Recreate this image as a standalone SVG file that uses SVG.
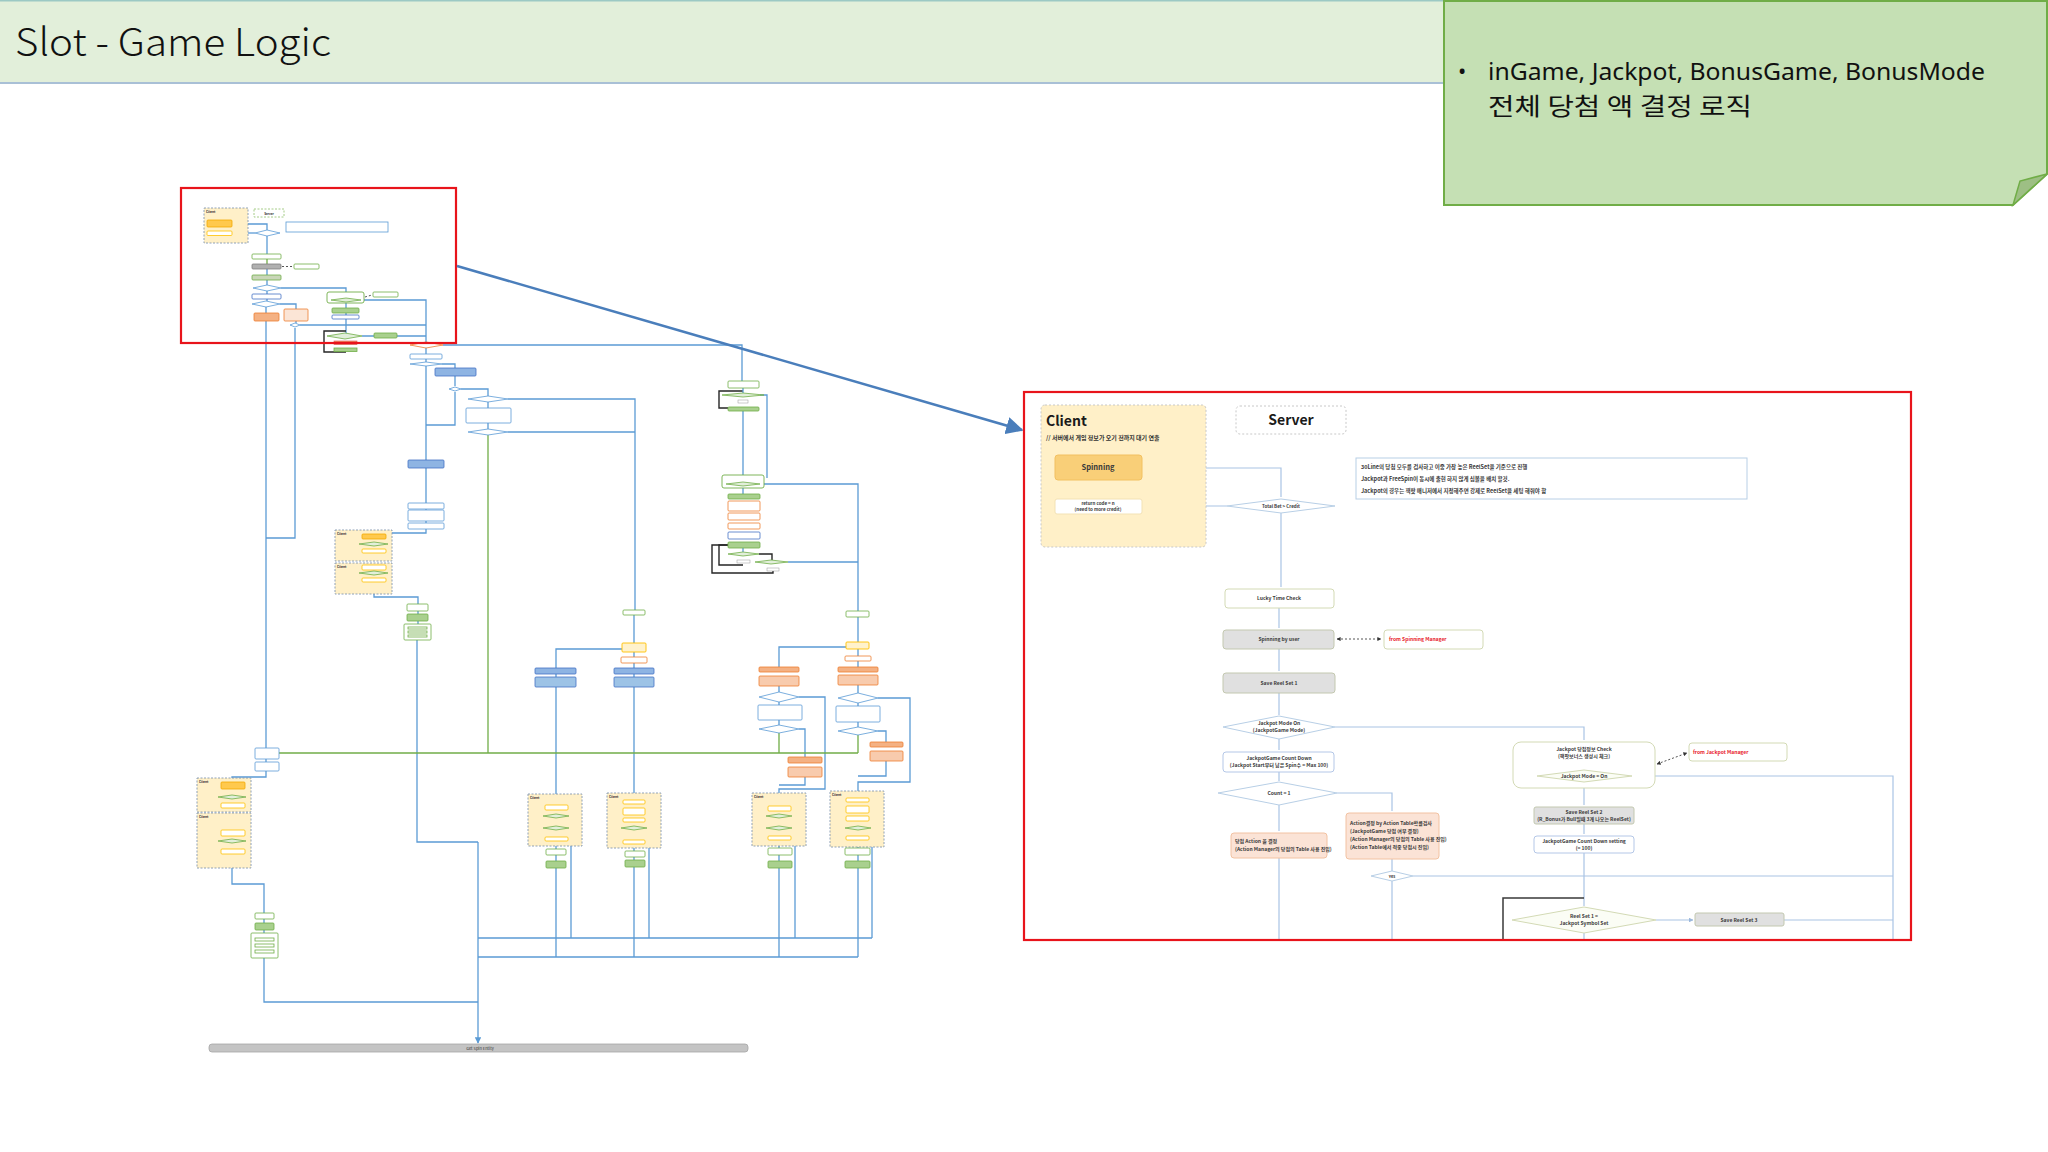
<svg xmlns="http://www.w3.org/2000/svg" width="2048" height="1152" viewBox="0 0 2048 1152">
<defs>
<style>
.f{font-family:"Noto Sans CJK KR","Noto Sans",sans-serif}
.pl{fill:none;stroke:#a9c4e4;stroke-width:1.2}
.pk{fill:none;stroke:#3a3a3a;stroke-width:1.5}
.pd{fill:none;stroke:#555;stroke-width:1;stroke-dasharray:2 2}
.pt{font-family:"Noto Sans CJK KR","Noto Sans",sans-serif;font-size:5px;fill:#3a3a3a;text-anchor:middle;font-weight:700}
.ptl{font-family:"Noto Sans CJK KR","Noto Sans",sans-serif;font-size:5px;fill:#3a3a3a;font-weight:700}
.pr{font-family:"Noto Sans CJK KR","Noto Sans",sans-serif;font-size:5px;fill:#e8202a;font-weight:700}
.pbw{fill:#fff;stroke:#d3dab5;stroke-width:1}
.pbb{fill:#fff;stroke:#b4c7e7;stroke-width:1}
.pbg{fill:#e0e0e0;stroke:#c3c8b0;stroke-width:1}
.pbo{fill:#fbe3d6;stroke:#f2c2a2;stroke-width:1}
.pdm{fill:#fff;stroke:#b8cfe6;stroke-width:1}
.pdg{fill:#fbfdf5;stroke:#d3dab5;stroke-width:1}
.ol{fill:none;stroke:#5b9bd5;stroke-width:1.3}
.og{fill:none;stroke:#70ad47;stroke-width:1.3}
.ok{fill:none;stroke:#262626;stroke-width:1.4}
.bw{fill:#fff;stroke:#5b9bd5;stroke-width:0.8}
.bg{fill:#fff;stroke:#70ad47;stroke-width:0.8}
.bgf{fill:#a9d08e;stroke:#70ad47;stroke-width:0.8}
.bgr{fill:#b0b0b0;stroke:#7f7f7f;stroke-width:0.8}
.bo{fill:#f4b183;stroke:#ed7d31;stroke-width:0.8}
.bof{fill:#fff;stroke:#ed7d31;stroke-width:0.8}
.bb{fill:#8eb4e3;stroke:#4472c4;stroke-width:0.8}
.bbw{fill:#fff;stroke:#4472c4;stroke-width:0.8}
.by{fill:#fff;stroke:#ffc000;stroke-width:0.8}
.byf{fill:#ffc94d;stroke:#f2a900;stroke-width:0.8}
.cl{fill:#fff0c8;stroke:#8497b0;stroke-width:0.9;stroke-dasharray:2 1.5}
.dg{fill:#e2efda;stroke:#70ad47;stroke-width:0.8}
.db{fill:#fff;stroke:#5b9bd5;stroke-width:0.8}
.do{fill:#fff;stroke:#ed7d31;stroke-width:0.8}
</style>
<marker id="arB" viewBox="0 0 10 10" refX="9" refY="5" markerWidth="7" markerHeight="7" orient="auto-start-reverse"><path d="M0,0 L10,5 L0,10 z" fill="#4a7ebb"/></marker>
<marker id="arP" viewBox="0 0 10 10" refX="9" refY="5" markerWidth="4" markerHeight="4" orient="auto-start-reverse"><path d="M0,0 L10,5 L0,10 z" fill="#9cb8dc"/></marker>
<marker id="arK" viewBox="0 0 10 10" refX="9" refY="5" markerWidth="4" markerHeight="4" orient="auto-start-reverse"><path d="M0,0 L10,5 L0,10 z" fill="#333"/></marker>
<marker id="arS" viewBox="0 0 10 10" refX="9" refY="5" markerWidth="5" markerHeight="5" orient="auto"><path d="M0,0 L10,5 L0,10 z" fill="#5b9bd5"/></marker>
<clipPath id="panelClip"><rect x="1024" y="392" width="887" height="548"/></clipPath>
</defs>

<rect width="2048" height="1152" fill="#fff"/>

<!-- Title bar -->
<g id="title">
<rect x="0" y="0" width="1445" height="83" fill="#e2efda"/>
<line x1="0" y1="0.8" x2="1445" y2="0.8" stroke="#9cc9c4" stroke-width="1.5"/>
<line x1="0" y1="83" x2="1445" y2="83" stroke="#a9c0d6" stroke-width="2"/>
<text class="f" x="15" y="56" font-size="38" font-weight="300" fill="#111" textLength="316" lengthAdjust="spacingAndGlyphs">Slot - Game Logic</text>
</g>

<!-- Note -->
<g id="note">
<path d="M1444,1 H2047 V174 L2013,205 H1444 Z" fill="#c5e0b4" stroke="#70ad47" stroke-width="2"/>
<path d="M2013,205 L2020,181 L2047,174 Z" fill="#9dbf84" stroke="#70ad47" stroke-width="1.5"/>
<text x="1458" y="79" font-family="Noto Sans, sans-serif" font-size="22" fill="#111">•</text>
<text x="1488" y="80" font-family="Noto Sans, sans-serif" font-size="24" fill="#111" textLength="497" lengthAdjust="spacingAndGlyphs">inGame, Jackpot, BonusGame, BonusMode</text>
<text class="f" x="1488" y="115" font-size="24" fill="#111" textLength="264" lengthAdjust="spacingAndGlyphs">전체 당첨 액 결정 로직</text>
</g>

<!-- ========== Overview flowchart (left) ========== -->
<g id="overview-connectors">
<path class="ol" d="M232,224 H267 V230"/>
<path class="ol" d="M255,233 H233"/>
<path class="ol" d="M267,236 V254"/>
<path class="og" d="M267,259 V264"/>
<path class="ol" d="M267,269 V275 M267,280 V285 M267,291 V294 M267,299 V301 M266,307 V313"/>
<path class="ol" d="M281,288 H346 V292"/>
<path class="ol" d="M280,304 H296 V309"/>
<path class="ol" d="M296,321 V323"/>
<path class="ol" d="M300,325 H426"/>
<path class="ol" d="M361,300 H426 V342"/>
<path class="ol" d="M346,303 V308 M346,313 V315 M346,319 V334"/>
<path class="ok" d="M346,331 H324 V352 H346"/>
<path class="ol" d="M362,336 H374 M397,336 H426"/>
<path class="ol" d="M443,345 H742 V381"/>
<path class="pd" d="M282,266.5 H293" stroke="#222"/>
<path class="pd" d="M365,297 L372,295" stroke="#222"/>
<path class="ol" d="M266,321 V748"/>
<path class="ol" d="M295,328 V538 H266"/>
<path class="ol" d="M426,348 V354 M426,359 V362"/>
<path class="ol" d="M442,364 H455 V368"/>
<path class="ol" d="M455,376 V386 M455,392 V425 H426"/>
<path class="ol" d="M461,389 H488 V396"/>
<path class="ol" d="M488,402 V408 M488,423 V429"/>
<path class="ol" d="M508,399 H635 V610"/>
<path class="ol" d="M508,432 H635"/>
<path class="og" d="M488,435 V753"/>
<path class="ol" d="M426,366 V460 M426,468 V503 M426,509 V510 M426,521 V523 M426,529 V533 H374 V536"/>
<path class="ol" d="M374,594 V597 H418 V604 M418,611 V614 M418,621 V624"/>
<path class="ol" d="M417,640 V842 H478"/>
<path class="ok" d="M743,391 H719 V408 H728"/>
<path class="ol" d="M760,395 H767 V478"/>
<path class="ol" d="M743,388 V393 M743,411 V475 M743,488 V494"/>
<path class="ol" d="M764,484 H858 V611"/>
<path class="ol" d="M743,548 V552"/>
<path class="ok" d="M728,545 H719 V565 H743"/>
<path class="ok" d="M728,545 H712 V573 H773 V570"/>
<path class="ok" d="M759,554 H772 V560"/>
<path class="ol" d="M788,562 H858"/>
<path class="ol" d="M858,617 V642 M858,649 V656 M858,661 V667 M858,685 V693 M858,703 V706 M858,722 V727"/>
<path class="ol" d="M846,647 H779 V667"/>
<path class="ol" d="M779,686 V692 M779,702 V705 M779,720 V725"/>
<path class="ol" d="M878,698 H910 V782 H858 V791"/>
<path class="ol" d="M878,731 H886 V742 M886,761 V776 H858"/>
<path class="ol" d="M799,697 H825 V789 H779 V793"/>
<path class="ol" d="M799,729 H805 V757 M805,777 V785 H779"/>
<path class="og" d="M858,735 V753 M779,733 V753"/>
<path class="ol" d="M634,615 V643 M634,652 V657 M634,663 V668 M634,674 V677"/>
<path class="ol" d="M622,649 H556 V668"/>
<path class="ol" d="M556,674 V677 M556,687 V794 M634,687 V793"/>
<path class="og" d="M279,753 H858"/>
<path class="ol" d="M266,759 V762 M266,771 V777 H232 V778"/>
<path class="ol" d="M232,868 V884 H264 V913 M264,919 V923 M264,930 V933"/>
<path class="ol" d="M264,958 V1002 H478"/>
<path class="ol" d="M556,846 V849 M556,855 V861 M556,868 V957"/>
<path class="ol" d="M571,828 V938"/>
<path class="ol" d="M634,848 V851 M634,857 V860 M634,867 V957"/>
<path class="ol" d="M649,828 V938"/>
<path class="ol" d="M779,846 V848 M779,855 V861 M779,868 V957"/>
<path class="ol" d="M795,828 V938"/>
<path class="ol" d="M858,847 V848 M858,855 V861 M858,868 V957"/>
<path class="ol" d="M872,828 V938"/>
<path class="ol" d="M478,938 H872 M478,957 H858"/>
<path class="ol" d="M478,842 V1043" marker-end="url(#arS)"/>
</g>

<g id="overview-nodes">
<rect class="cl" x="204" y="208" width="44" height="35"/>
<text class="f" x="206" y="213" font-size="3.2" font-weight="700" fill="#333">Client</text>
<rect x="254" y="209" width="30" height="8" fill="#fff" stroke="#8fbf6a" stroke-width="0.8" stroke-dasharray="2 1.5"/>
<text class="f" x="269" y="214.5" font-size="3" font-weight="700" fill="#333" text-anchor="middle">Server</text>
<rect class="byf" x="207" y="220" width="25" height="7" rx="1"/>
<rect class="by" x="207" y="231" width="25" height="4.5" rx="1"/>
<rect class="bw" x="286" y="222" width="102" height="10"/>
<polygon class="db" points="255,233 267,230 280,233 267,236"/>
<rect class="bg" x="252" y="254" width="29" height="5" rx="1"/>
<rect class="bgr" x="252" y="264" width="29" height="5" rx="1"/>
<rect class="bg" x="294" y="264" width="25" height="5" rx="1"/>
<rect x="252" y="275" width="29" height="5" rx="1" fill="#c9d6b8" stroke="#70ad47" stroke-width="0.8"/>
<polygon class="db" points="253,288 267,285 281,288 267,291"/>
<rect class="bbw" x="252" y="294" width="29" height="5" rx="1"/>
<polygon class="db" points="252,304 266,301 280,304 266,307"/>
<rect class="bo" x="254" y="313" width="25" height="8" rx="1"/>
<rect x="284" y="309" width="24" height="12" rx="1" fill="#fbe5d6" stroke="#ed7d31" stroke-width="0.8"/>
<polygon class="db" points="290,325 295,323 300,325 295,327"/>
<rect x="327" y="292" width="37" height="11" rx="2" fill="#fff" stroke="#70ad47" stroke-width="0.9"/>
<polygon class="dg" points="331,300 346,298 361,300 346,302"/>
<rect class="bg" x="373" y="292" width="25" height="5" rx="1"/>
<rect class="bgf" x="332" y="308" width="27" height="5" rx="1"/>
<rect class="bbw" x="332" y="315" width="27" height="4" rx="1"/>
<polygon class="dg" points="327,336 345,333 362,336 345,339"/>
<rect class="bgf" x="374" y="333" width="23" height="5" rx="1"/>
<rect x="334" y="341" width="23" height="3.5" fill="#f08a5d" stroke="#d9534f" stroke-width="0.6"/>
<rect class="bgf" x="334" y="348" width="23" height="3.5"/>
<polygon class="do" points="410,345 426,342 443,345 426,348"/>
<rect class="bw" x="410" y="354" width="32" height="5" rx="1"/>
<polygon class="db" points="410,364 426,362 442,364 426,366"/>
<rect class="bb" x="435" y="368" width="41" height="8" rx="1"/>
<polygon class="db" points="449,389 455,387 461,389 455,391"/>
<polygon class="db" points="468,399 488,396 508,399 488,402"/>
<rect class="bw" x="466" y="408" width="45" height="15" rx="1"/>
<polygon class="db" points="468,432 488,429 508,432 488,435"/>
<rect class="bb" x="408" y="460" width="36" height="8" rx="1"/>
<rect class="bw" x="408" y="503" width="36" height="6" rx="1"/>
<rect class="bw" x="408" y="510" width="36" height="11" rx="1"/>
<rect class="bw" x="408" y="523" width="36" height="6" rx="1"/>
<rect class="cl" x="335" y="530" width="57" height="31"/>
<rect class="cl" x="335" y="563" width="57" height="31"/>
<text class="f" x="337" y="535" font-size="3.2" font-weight="700" fill="#333">Client</text>
<text class="f" x="337" y="568" font-size="3.2" font-weight="700" fill="#333">Client</text>
<rect class="byf" x="362" y="534" width="24" height="5" rx="1"/>
<polygon class="dg" points="359,544 374,542 388,544 374,546"/>
<rect class="by" x="362" y="549" width="24" height="4" rx="1"/>
<rect class="by" x="362" y="565" width="24" height="5" rx="1"/>
<polygon class="dg" points="359,573 374,571 388,573 374,575"/>
<rect class="by" x="362" y="578" width="24" height="4" rx="1"/>
<rect class="bg" x="407" y="604" width="21" height="7" rx="1"/>
<rect class="bgf" x="407" y="614" width="21" height="7" rx="1"/>
<rect class="bg" x="404" y="624" width="27" height="16" rx="1"/>
<rect class="bg" x="408" y="627" width="19" height="2"/>
<rect class="bg" x="408" y="631" width="19" height="2"/>
<rect class="bg" x="408" y="635" width="19" height="2"/>
<rect class="bg" x="623" y="610" width="22" height="5" rx="1"/>
<rect class="bg" x="728" y="381" width="31" height="7" rx="1"/>
<polygon class="dg" points="722,395 743,393 764,395 743,397"/>
<rect x="738" y="400" width="10" height="3" fill="#fff" stroke="#999" stroke-width="0.5"/>
<rect class="bgf" x="728" y="407" width="31" height="4" rx="1"/>
<rect x="722" y="475" width="42" height="13" rx="2" fill="#fff" stroke="#70ad47" stroke-width="0.9"/>
<polygon class="dg" points="726,484 743,482 760,484 743,486"/>
<rect class="bgf" x="728" y="494" width="32" height="5" rx="1"/>
<rect class="bof" x="728" y="501" width="32" height="10" rx="1"/>
<rect class="bof" x="728" y="513" width="32" height="7" rx="1"/>
<rect class="bof" x="728" y="523" width="32" height="6" rx="1"/>
<rect class="bbw" x="728" y="532" width="32" height="7" rx="1"/>
<rect class="bgf" x="728" y="542" width="32" height="6" rx="1"/>
<polygon class="dg" points="728,554 743,552 759,554 743,556"/>
<polygon class="dg" points="755,562 771,560 788,562 771,564"/>
<rect x="737" y="560" width="13" height="3" fill="#fff" stroke="#999" stroke-width="0.5"/>
<rect x="767" y="568" width="12" height="3" fill="#fff" stroke="#999" stroke-width="0.5"/>
<rect class="bg" x="846" y="611" width="23" height="6" rx="1"/>
<rect x="846" y="642" width="23" height="7" rx="1" fill="#fff2cc" stroke="#ffc000" stroke-width="0.9"/>
<rect class="bof" x="845" y="656" width="26" height="5" rx="1"/>
<rect class="bo" x="838" y="667" width="40" height="5" rx="1"/>
<rect x="838" y="675" width="40" height="10" rx="1" fill="#f8cbad" stroke="#ed7d31" stroke-width="0.8"/>
<polygon class="db" points="838,698 858,693 878,698 858,703"/>
<rect class="bw" x="836" y="706" width="44" height="16" rx="1"/>
<polygon class="db" points="838,731 858,727 878,731 858,735"/>
<rect class="bo" x="870" y="742" width="33" height="5" rx="1"/>
<rect x="870" y="751" width="33" height="10" rx="1" fill="#f8cbad" stroke="#ed7d31" stroke-width="0.8"/>
<rect class="bo" x="759" y="667" width="40" height="5" rx="1"/>
<rect x="759" y="676" width="40" height="10" rx="1" fill="#f8cbad" stroke="#ed7d31" stroke-width="0.8"/>
<polygon class="db" points="759,697 779,692 799,697 779,702"/>
<rect class="bw" x="758" y="705" width="44" height="15" rx="1"/>
<polygon class="db" points="759,729 779,725 799,729 779,733"/>
<rect class="bo" x="788" y="757" width="34" height="6" rx="1"/>
<rect x="788" y="767" width="34" height="10" rx="1" fill="#f8cbad" stroke="#ed7d31" stroke-width="0.8"/>
<rect x="622" y="643" width="24" height="9" rx="1" fill="#fff2cc" stroke="#ffc000" stroke-width="0.9"/>
<rect class="bof" x="621" y="657" width="26" height="6" rx="1"/>
<rect class="bb" x="614" y="668" width="40" height="6" rx="1"/>
<rect x="614" y="677" width="40" height="10" rx="1" fill="#9dc3e6" stroke="#4472c4" stroke-width="0.8"/>
<rect class="bb" x="535" y="668" width="41" height="6" rx="1"/>
<rect x="535" y="677" width="41" height="10" rx="1" fill="#9dc3e6" stroke="#4472c4" stroke-width="0.8"/>
<rect class="cl" x="528" y="794" width="54" height="52"/>
<rect class="cl" x="607" y="793" width="54" height="55"/>
<rect class="cl" x="752" y="793" width="54" height="53"/>
<rect class="cl" x="830" y="791" width="54" height="56"/>
<text class="f" x="530" y="799" font-size="3.2" font-weight="700" fill="#333">Client</text>
<text class="f" x="609" y="798" font-size="3.2" font-weight="700" fill="#333">Client</text>
<text class="f" x="754" y="798" font-size="3.2" font-weight="700" fill="#333">Client</text>
<text class="f" x="832" y="796" font-size="3.2" font-weight="700" fill="#333">Client</text>
<rect class="by" x="545" y="805" width="23" height="5" rx="1"/>
<polygon class="dg" points="543,816 556,814 569,816 556,818"/>
<polygon class="dg" points="543,828 556,826 569,828 556,830"/>
<rect class="by" x="545" y="837" width="23" height="4" rx="1"/>
<rect class="by" x="623" y="800" width="22" height="4" rx="1"/>
<rect class="by" x="623" y="808" width="22" height="7" rx="1"/>
<rect class="by" x="623" y="818" width="22" height="4" rx="1"/>
<polygon class="dg" points="621,828 634,826 647,828 634,830"/>
<rect class="by" x="623" y="840" width="22" height="4" rx="1"/>
<rect class="by" x="768" y="806" width="23" height="5" rx="1"/>
<polygon class="dg" points="766,816 779,814 792,816 779,818"/>
<polygon class="dg" points="766,828 779,826 792,828 779,830"/>
<rect class="by" x="768" y="836" width="23" height="4" rx="1"/>
<rect class="by" x="846" y="798" width="23" height="4" rx="1"/>
<rect class="by" x="846" y="806" width="23" height="7" rx="1"/>
<rect class="by" x="846" y="816" width="23" height="5" rx="1"/>
<polygon class="dg" points="845,828 858,826 871,828 858,830"/>
<rect class="by" x="846" y="836" width="23" height="4" rx="1"/>
<rect class="bg" x="546" y="849" width="20" height="6" rx="1"/>
<rect class="bgf" x="546" y="861" width="20" height="7" rx="1"/>
<rect class="bg" x="625" y="851" width="20" height="6" rx="1"/>
<rect class="bgf" x="625" y="860" width="20" height="7" rx="1"/>
<rect class="bg" x="768" y="848" width="24" height="7" rx="1"/>
<rect class="bgf" x="768" y="861" width="24" height="7" rx="1"/>
<rect class="bg" x="845" y="848" width="25" height="7" rx="1"/>
<rect class="bgf" x="845" y="861" width="25" height="7" rx="1"/>
<rect class="bw" x="255" y="748" width="24" height="11" rx="1"/>
<rect class="bw" x="255" y="762" width="24" height="9" rx="1"/>
<rect class="cl" x="197" y="778" width="54" height="34"/>
<rect class="cl" x="197" y="813" width="54" height="55"/>
<text class="f" x="199" y="783" font-size="3.2" font-weight="700" fill="#333">Client</text>
<text class="f" x="199" y="818" font-size="3.2" font-weight="700" fill="#333">Client</text>
<rect class="byf" x="221" y="782" width="24" height="7" rx="1"/>
<polygon class="dg" points="218,797 232,795 246,797 232,799"/>
<rect class="by" x="221" y="803" width="24" height="5" rx="1"/>
<rect class="by" x="221" y="830" width="24" height="6" rx="1"/>
<polygon class="dg" points="218,841 232,839 246,841 232,843"/>
<rect class="by" x="221" y="849" width="24" height="5" rx="1"/>
<rect class="bg" x="255" y="913" width="19" height="6" rx="1"/>
<rect class="bgf" x="255" y="923" width="19" height="7" rx="1"/>
<rect class="bg" x="251" y="933" width="27" height="25" rx="1"/>
<rect class="bg" x="255" y="938" width="19" height="3"/>
<rect class="bg" x="255" y="944" width="19" height="3"/>
<rect class="bg" x="255" y="950" width="19" height="3"/>
<rect x="209" y="1044" width="539" height="8" rx="3" fill="#c4c4c4" stroke="#a6a6a6" stroke-width="0.8"/>
<text class="f" x="480" y="1050" font-size="4" fill="#333" text-anchor="middle">Get Spin Entity</text>
</g>

<g id="zoom-callout">
<rect x="181" y="188" width="275" height="155" fill="none" stroke="#e8141b" stroke-width="2.2"/>
<line x1="457" y1="266" x2="1022" y2="430" stroke="#4a7ebb" stroke-width="2.5" marker-end="url(#arB)"/>
</g>

<!-- ========== Zoomed panel (right) ========== -->
<g id="panel">
<rect x="1024" y="392" width="887" height="548" fill="#fff"/>
<g clip-path="url(#panelClip)">
<g id="panel-connectors">
<path class="pl" d="M1142,468 H1281 V497"/>
<path class="pl" d="M1227,506 H1145" marker-end="url(#arP)"/>
<path class="pl" d="M1281,513 V587"/>
<path class="pl" d="M1279,608 V628" stroke="#cfd6ad"/>
<path class="pl" d="M1279,649 V671 M1279,693 V715 M1279,739 V750 M1279,772 V781 M1279,805 V831 M1279,858 V940"/>
<path class="pl" d="M1335,727 H1584 V740"/>
<path class="pl" d="M1337,793 H1392 V811"/>
<path class="pl" d="M1392,859 V871 M1392,881 V940"/>
<path class="pl" d="M1413,876 H1893"/>
<path class="pl" d="M1632,776 H1893 V940"/>
<path class="pl" d="M1584,782 V805 M1584,824 V834 M1584,853 V906 M1584,933 V940"/>
<path class="pk" d="M1503,940 V898 H1584"/>
<path class="pl" d="M1656,920 H1693" marker-end="url(#arP)"/>
<path class="pl" d="M1784,920 H1893"/>
<path class="pd" d="M1337,639 H1381" marker-start="url(#arK)" marker-end="url(#arK)"/>
<path class="pd" d="M1657,764 L1687,753" marker-start="url(#arK)" marker-end="url(#arK)"/>
</g>
<g id="p-client">
<rect x="1041" y="405" width="165" height="142" rx="4" fill="#fff0c8" stroke="#c8c8c8" stroke-width="1" stroke-dasharray="2 2"/>
<text class="f" x="1046" y="426" font-size="14" font-weight="700" fill="#1a1a1a">Client</text>
<text class="f" x="1046" y="440" font-size="6" font-weight="700" fill="#333">// 서버에서 게임 정보가 오기 전까지 대기 연출</text>
</g>
<g id="p-spinning">
<rect x="1055" y="455" width="87" height="25" rx="3" fill="#f9cf78" stroke="#f2c060" stroke-width="1"/>
<text class="pt" x="1098" y="470" fill="#4a3a1a" style="font-size:7.5px">Spinning</text>
</g>
<g id="p-return">
<rect x="1055" y="499" width="87" height="15" rx="2" fill="#fff" stroke="#f3e2b5" stroke-width="1"/>
<text class="pt" x="1098" y="505" style="font-size:4.5px">return code = n</text>
<text class="pt" x="1098" y="511" style="font-size:4.5px">(need to more credit)</text>
</g>
<g id="p-server">
<rect x="1236" y="406" width="110" height="28" rx="4" fill="#fff" stroke="#c8c8c8" stroke-width="1" stroke-dasharray="2 2"/>
<text class="f" x="1291" y="425" font-size="14" font-weight="700" fill="#1a1a1a" text-anchor="middle">Server</text>
</g>
<g id="p-totalbet">
<polygon class="pdm" points="1227,506 1281,499 1335,506 1281,513"/>
<text class="pt" x="1281" y="508" style="font-size:4.5px">Total Bet &gt; Credit</text>
</g>
<g id="p-desc">
<rect x="1356" y="458" width="391" height="41" fill="#fff" stroke="#b8cfe6" stroke-width="1"/>
<text class="ptl" x="1361" y="469" style="font-size:5.5px">30Line의 당첨 모두를 검사하고 이중 가장 높은 ReelSet을 기준으로 진행</text>
<text class="ptl" x="1361" y="481" style="font-size:5.5px">Jackpot과  FreeSpin이 동시에 출현 하지 않게 심볼을 배치 할것.</text>
<text class="ptl" x="1361" y="493" style="font-size:5.5px">Jackpot의 경우는  잭팟 매니저에서  지정해주면  강제로 ReelSet을 세팅 해줘야 함</text>
</g>
<g id="p-lucky">
<rect class="pbw" x="1225" y="589" width="109" height="19" rx="3"/>
<text class="pt" x="1279" y="600">Lucky Time Check</text>
</g>
<g id="p-spinuser">
<rect class="pbg" x="1223" y="630" width="111" height="19" rx="3"/>
<text class="pt" x="1279" y="641">Spinning by user</text>
</g>
<g id="p-spinmgr">
<rect class="pbw" x="1384" y="630" width="99" height="19" rx="3"/>
<text class="pr" x="1389" y="641">from Spinning Manager</text>
</g>
<g id="p-save1">
<rect class="pbg" x="1223" y="673" width="112" height="20" rx="3"/>
<text class="pt" x="1279" y="685">Save Reel Set 1</text>
</g>
<g id="p-jpmode">
<polygon class="pdm" points="1223,727 1279,716 1335,727 1279,739"/>
<text class="pt" x="1279" y="725">Jackpot Mode On</text>
<text class="pt" x="1279" y="732">(JackpotGame Mode)</text>
</g>
<g id="p-countdown">
<rect class="pbb" x="1223" y="752" width="111" height="20" rx="3"/>
<text class="pt" x="1279" y="760">JackpotGame Count Down</text>
<text class="pt" x="1279" y="767">(Jackpot Start부터 남은 Spin수 = Max 100)</text>
</g>
<g id="p-count1">
<polygon class="pdm" points="1218,793 1279,782 1337,793 1279,805"/>
<text class="pt" x="1279" y="795">Count = 1</text>
</g>
<g id="p-action1">
<rect class="pbo" x="1231" y="833" width="96" height="25" rx="3"/>
<text class="ptl" x="1235" y="843">당첨 Action 을 결정</text>
<text class="ptl" x="1235" y="851">(Action Manager의 당첨의 Table 사용 진입)</text>
</g>
<g id="p-action2">
<rect class="pbo" x="1346" y="813" width="93" height="46" rx="3"/>
<text class="ptl" x="1350" y="825">Action결정 by Action Table확률검사</text>
<text class="ptl" x="1350" y="833">(JackpotGame 당첨 여부 결정)</text>
<text class="ptl" x="1350" y="841">(Action Manager의 당첨의 Table 사용 진입)</text>
<text class="ptl" x="1350" y="849">(Action Table에서 적중 당첨시 진입)</text>
</g>
<g id="p-yes">
<polygon class="pdm" points="1371,876 1392,871 1413,876 1392,881"/>
<text class="pt" x="1392" y="878" style="font-size:4px">Yes</text>
</g>
<g id="p-jpcheck">
<rect class="pbw" x="1513" y="742" width="142" height="46" rx="8"/>
<text class="pt" x="1584" y="751">Jackpot 당첨정보 Check</text>
<text class="pt" x="1584" y="758">(잭팟보너스 생성시 체크)</text>
<polygon class="pdg" points="1537,776 1584,770 1632,776 1584,782"/>
<text class="pt" x="1584" y="778">Jackpot Mode = On</text>
</g>
<g id="p-jpmgr">
<rect class="pbw" x="1689" y="743" width="98" height="18" rx="3"/>
<text class="pr" x="1693" y="754">from Jackpot Manager</text>
</g>
<g id="p-save2">
<rect class="pbg" x="1534" y="807" width="100" height="17" rx="2"/>
<text class="pt" x="1584" y="814">Save Reel Set 2</text>
<text class="pt" x="1584" y="821">(R_Bonus가 Bull일때 3개 나오는 ReelSet)</text>
</g>
<g id="p-cdset">
<rect class="pbb" x="1534" y="836" width="100" height="17" rx="3"/>
<text class="pt" x="1584" y="843">JackpotGame Count Down setting</text>
<text class="pt" x="1584" y="850">(= 100)</text>
</g>
<g id="p-rs1jp">
<polygon class="pdg" points="1512,920 1584,907 1656,920 1584,933"/>
<text class="pt" x="1584" y="918">Reel Set 1 =</text>
<text class="pt" x="1584" y="925">Jackpot Symbol Set</text>
</g>
<g id="p-save3">
<rect class="pbg" x="1695" y="913" width="89" height="13" rx="2"/>
<text class="pt" x="1739" y="921.5">Save Reel Set 3</text>
</g>
</g>
<rect x="1024" y="392" width="887" height="548" fill="none" stroke="#e8141b" stroke-width="2.2"/>
</g>
</svg>
